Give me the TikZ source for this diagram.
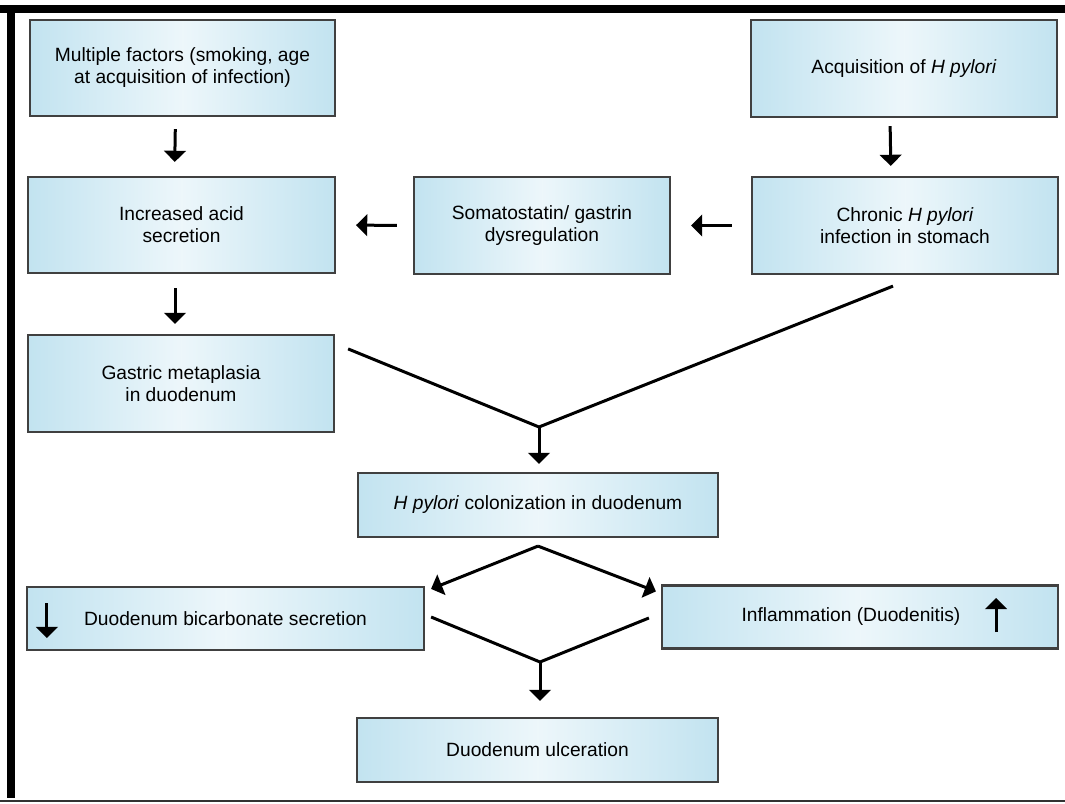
\documentclass[tikz,border=0pt]{standalone}
\usepackage{fontspec}
\setmainfont{Liberation Sans}
\usetikzlibrary{arrows,shapes}
\definecolor{boxblue}{RGB}{194,227,240}

\begin{document}
\begin{tikzpicture}[x=1pt, y=-1pt,
		box/.style={rectangle, draw=black!75, line width=2.2pt, left color=boxblue, right color=boxblue, middle color=boxblue!30!white, align=center, inner sep=0pt, font=\fontsize{19.2}{22}\selectfont},
		arr/.style={->, >=triangle 90, line width=3pt},
		link/.style={line width=3pt}]
		\useasboundingbox (0, 0) rectangle (1065, 803);
		\fill (0, 5) rectangle (1065, 13);
		\fill (7, 13) rectangle (15, 798);
		\draw[line width=1.5pt, black!80] (0, 801) -- (1065, 801);

		\node[box, minimum width=305, minimum height=96] (mult) at (182.5, 68) {Multiple factors (smoking, age\\at acquisition of infection)};
		\node[box, minimum width=306, minimum height=97] (acq) at (904, 68.5) {Acquisition of \textit{H pylori}};
		\node[box, minimum width=307, minimum height=96] (acid) at (181.5, 225) {Increased acid\\secretion};
		\node[box, minimum width=256, minimum height=97] (soma) at (542, 225.5) {Somatostatin/ gastrin\\dysregulation};
		\node[box, minimum width=306, minimum height=97] (chron) at (905, 225.5) {Chronic \textit{H pylori}\\infection in stomach};
		\node[box, minimum width=306, minimum height=97] (gastric) at (181, 383.5) {Gastric metaplasia\\in duodenum};
		\node[box, minimum width=360, minimum height=64] (colon) at (538, 505) {\textit{H pylori} colonization in duodenum};
		\node[box, minimum width=397, minimum height=63] (bicarb) at (225.5, 618.5) {Duodenum bicarbonate secretion};
		\node[box, minimum width=396, minimum height=63] (inflam) at (860, 617) {Inflammation (Duodenitis)\hspace{18pt}};
		\node[box, minimum width=361, minimum height=64] (ulcer) at (537.5, 750) {Duodenum ulceration};

		\draw[arr, shorten <=12pt, shorten >=14pt] ([xshift=-7pt]mult.south) -- ([xshift=-7pt]acid.north);
		\draw[arr, shorten <=8pt, shorten >=10pt] ([xshift=-14pt]acq.south) -- ([xshift=-14pt]chron.north);
		\draw[arr, shorten <=14pt, shorten >=10pt] ([xshift=-6.5pt]acid.south) -- ([xshift=-6pt]gastric.north);
		\draw[arr, shorten <=16pt, shorten >=20pt] (soma.west) -- (acid.east);
		\draw[arr, shorten <=19pt, shorten >=20pt] (chron.west) -- (soma.east);

		\coordinate (join1) at (539, 427);
		\draw[link] ([xshift=13pt, yshift=-15pt]gastric.north east) -- (join1) -- ([xshift=-12pt, yshift=-11pt]chron.south);
		\draw[arr, shorten >=8pt] (join1) -- (join1 |- colon.north);

		\coordinate (split) at ([yshift=-8pt]colon.south);
		\draw[arr] (split) -- ([xshift=6pt, yshift=-3pt]bicarb.north east);
		\draw[arr] (split) -- ([xshift=-5pt, yshift=-7pt]inflam.north west);
		\coordinate (join2) at (540, 662);
		\draw[link] ([xshift=6pt, yshift=1.5pt]bicarb.east) -- (join2) -- ([xshift=-12pt, yshift=-1pt]inflam.west);
		\draw[arr, shorten >=16pt] (join2) -- (join2 |- ulcer.north);

		\draw[arr] ([xshift=21pt, yshift=15.5pt]bicarb.west) -- ([xshift=21pt, yshift=-19.5pt]bicarb.west);
		\draw[arr] ([xshift=136pt, yshift=-15pt]inflam.center) -- ([xshift=136pt, yshift=19pt]inflam.center);
\end{tikzpicture}
\end{document}
